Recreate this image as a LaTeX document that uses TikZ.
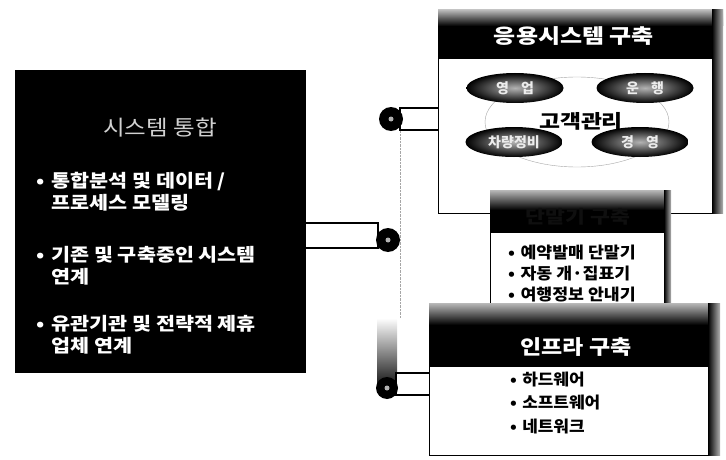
\documentclass[tikz,border=0pt]{standalone}
\usepackage{fontspec}
\setmainfont{Noto Sans CJK KR}
\usetikzlibrary{shapes.geometric}
\newcommand{\widetext}[2][1.2]{\scalebox{#1}[1]{#2}}
\begin{document}
\begin{tikzpicture}[x=1pt,y=-1pt,
  panel/.style={draw=black, line width=1.1pt, fill=white, inner sep=0, anchor=north west},
  hub/.style={circle, fill=black, minimum size=24pt, inner sep=0},
  bar/.style={draw=black, line width=1.8pt, fill=white},
  bulwhite/.style={anchor=west, inner sep=0, text=white, font=\bfseries\fontsize{18}{22}\selectfont},
  bulblack/.style={anchor=west, inner sep=0, text=black, font=\bfseries\fontsize{16}{21}\selectfont},
  headtext/.style={text=white, inner sep=0, font=\bfseries\fontsize{20}{24}\selectfont},
  oval/.style={ellipse, shade, inner color=gray!60, outer color=black, minimum width=97pt, minimum height=30pt, inner sep=0, text=gray!15, font=\bfseries\fontsize{14}{16}\selectfont}
]
\useasboundingbox (0,0) rectangle (726,460);

% ---------- connectors ----------
\draw[bar] (300,223) rectangle (378,248);
\draw[bar] (400,108) rectangle (440,130);
\shade[top color=white, bottom color=black] (377,318) rectangle (397,392);
\draw[bar] (396,373) rectangle (431,395);
\node[hub] (c0) at (391,119) {};
\node[hub] (c1) at (388,240) {};
\node[hub, minimum size=22pt] (c2) at (387,388) {};
\foreach \c in {c0,c1,c2} \fill[gray!60] (\c) circle (2.5);
\draw[densely dotted, gray!70] (400,131) -- (400,318);

% ---------- left box ----------
\node[panel, fill=black, minimum width=290pt, minimum height=302pt] (sys) at (15,70) {};
\node[inner sep=0, text=black!18, font=\fontsize{21}{24}\selectfont] (systitle) at (160,128) {\widetext[1.12]{시스템 통합}};
\node[bulwhite] (s1) at (36,194) {\widetext[1.15]{\begin{tabular}{@{}l@{\hspace{6pt}}l@{}}• & 통합분석 및 데이터 /\\ & 프로세스 모델링\end{tabular}}};
\node[bulwhite] (s2) at (36,268) {\widetext[1.15]{\begin{tabular}{@{}l@{\hspace{6pt}}l@{}}• & 기존 및 구축중인 시스템\\ & 연계\end{tabular}}};
\node[bulwhite] (s3) at (36,337) {\widetext[1.15]{\begin{tabular}{@{}l@{\hspace{6pt}}l@{}}• & 유관기관 및 전략적 제휴\\ & 업체 연계\end{tabular}}};

% ---------- application box ----------
\node[panel, minimum width=276pt, minimum height=155pt] (app) at (438,58) {};
\fill[black] (438,10) rectangle (723,58);
\shade[top color=gray!55, bottom color=black] (438,10) rectangle (723,26);
\shade[left color=black, right color=gray!60] (712,10) rectangle (723,213);
\node[headtext] (apptitle) at (574,36) {\widetext{응용시스템 구축}};
\node[ellipse, draw=gray!70, minimum width=184pt, minimum height=90pt] (core) at (577,122) {};
\node[oval] (o1) at (515,88) {영\hspace{12pt}업};
\node[oval] (o2) at (645,88) {운\hspace{12pt}행};
\node[oval] (o3) at (514,142) {차량정비};
\node[oval] (o4) at (640,142) {경\hspace{12pt}영};
\node[inner sep=0, text=black, font=\bfseries\fontsize{19}{22}\selectfont] (crm) at (581,121) {\widetext{고객관리}};

% ---------- terminal box ----------
\node[panel, minimum width=180pt, minimum height=130pt] (term) at (490,190) {};
\fill[black] (490,190) rectangle (670,233);
\shade[top color=gray!55, bottom color=black] (490,190) rectangle (670,210);
\shade[left color=black, right color=gray!60] (664,190) rectangle (671,320);
\node[inner sep=0, text=gray!12!black, font=\bfseries\fontsize{18}{22}\selectfont] (termtitle) at (578,217) {\widetext{단말기 구축}};
\node[bulblack] (t1) at (508,275) {\widetext[1.08]{\begin{tabular}{@{}l@{\hspace{5pt}}l@{}}• & 예약발매 단말기\\ • & 자동 개·집표기\\ • & 여행정보 안내기\end{tabular}}};

% ---------- infra box ----------
\node[panel, minimum width=280pt, minimum height=152pt] (infra) at (429,303) {};
\fill[black] (429,303) rectangle (719,367);
\shade[top color=gray!55, bottom color=black] (429,303) rectangle (719,325);
\shade[left color=black, right color=gray!60] (708,303) rectangle (720,455);
\node[headtext] (inftitle) at (576,347) {\widetext[1.15]{인프라 구축}};
\node[bulblack, font=\bfseries\fontsize{16}{23.5}\selectfont] (i1) at (510,404) {\widetext[1.06]{\begin{tabular}{@{}l@{\hspace{5pt}}l@{}}• & 하드웨어\\ • & 소프트웨어\\ • & 네트워크\end{tabular}}};
\end{tikzpicture}
\end{document}
